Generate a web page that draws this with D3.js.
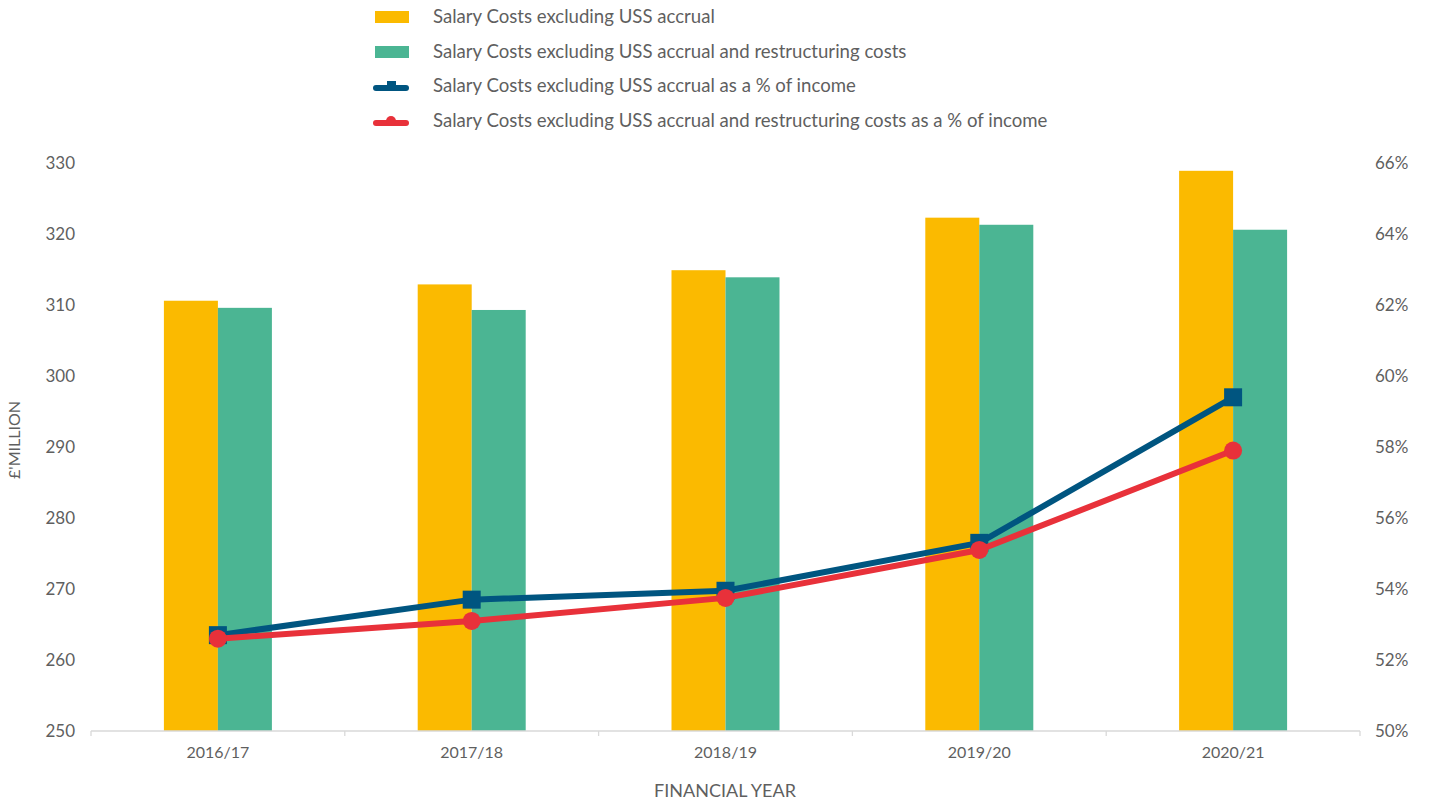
<!DOCTYPE html>
<html><head><meta charset="utf-8">
<script src="https://cdn.jsdelivr.net/npm/d3@7"></script>
<style>
body{margin:0;background:#fff;}
text{font-family:Lato,"Open Sans",sans-serif;fill:#5f5f5f;}
</style></head>
<body><svg id="c" width="1432" height="803"></svg>
<script>
const categories = ["2016/17","2017/18","2018/19","2019/20","2020/21"];
const salaryExclUSS = [310.6, 312.9, 314.9, 322.3, 328.9];
const salaryExclUSSRestr = [309.6, 309.3, 313.9, 321.3, 320.6];
const pctExclUSS = [52.7, 53.7, 53.95, 55.3, 59.4];
const pctExclUSSRestr = [52.6, 53.1, 53.75, 55.1, 57.9];
const leftTicks = [250,260,270,280,290,300,310,320,330];
const rightTicks = [50,52,54,56,58,60,62,64,66];
const seriesNames = ["Salary Costs excluding USS accrual","Salary Costs excluding USS accrual and restructuring costs","Salary Costs excluding USS accrual as a % of income","Salary Costs excluding USS accrual and restructuring costs as a % of income"];
const colors = {yellow:"#FBBA00", green:"#4BB593", blue:"#005580", red:"#E8313A"};

const svg = d3.select("#c");
const L=91, R=1360, T=163, B=731;
const x = d3.scaleBand().domain(categories).range([L,R]);
const yL = d3.scaleLinear().domain([250,330]).range([B,T]);
const yR = d3.scaleLinear().domain([50,66]).range([B,T]);
const barW = 54;

// bars
const g = svg.append("g");
g.selectAll(".b1").data(categories).join("rect")
 .attr("x",d=>x(d)+x.bandwidth()/2-barW).attr("width",barW)
 .attr("y",(d,i)=>yL(salaryExclUSS[i])).attr("height",(d,i)=>B-yL(salaryExclUSS[i]))
 .attr("fill",colors.yellow);
g.selectAll(".b2").data(categories).join("rect")
 .attr("x",d=>x(d)+x.bandwidth()/2).attr("width",barW)
 .attr("y",(d,i)=>yL(salaryExclUSSRestr[i])).attr("height",(d,i)=>B-yL(salaryExclUSSRestr[i]))
 .attr("fill",colors.green);

// x axis
const xa = svg.append("g").attr("transform",`translate(0,${B})`);
xa.append("line").attr("x1",L).attr("x2",R).attr("stroke","#d9d9d9").attr("stroke-width",1.3);
const bounds = categories.map(c=>x(c)).concat([R]);
xa.selectAll(".t").data(bounds).join("line").attr("x1",d=>d).attr("x2",d=>d).attr("y1",0).attr("y2",5).attr("stroke","#d9d9d9").attr("stroke-width",1.3);
xa.selectAll(".l").data(categories).join("text").attr("x",d=>x(d)+x.bandwidth()/2).attr("y",27)
 .attr("text-anchor","middle").attr("font-size",16).text(d=>d);

// left ticks
svg.append("g").selectAll("text").data(leftTicks).join("text")
 .attr("x",75).attr("y",d=>yL(d)+6).attr("text-anchor","end").attr("font-size",17).text(d=>d);
// right ticks
svg.append("g").selectAll("text").data(rightTicks).join("text")
 .attr("x",1375).attr("y",d=>yR(d)+6).attr("text-anchor","start").attr("font-size",17).text(d=>d+"%");

// axis titles
svg.append("text").attr("transform","translate(20,440) rotate(-90)").attr("text-anchor","middle").attr("font-size",16).text("£'MILLION");
svg.append("text").attr("x",725).attr("y",797).attr("text-anchor","middle").attr("font-size",18).text("FINANCIAL YEAR");

// lines
const cx = d=>x(d)+x.bandwidth()/2;
const line = (arr)=>d3.line().x((d,i)=>cx(categories[i])).y((d,i)=>yR(arr[i]))(arr);
svg.append("path").attr("d",line(pctExclUSS)).attr("fill","none").attr("stroke",colors.blue).attr("stroke-width",6).attr("stroke-linejoin","round");
svg.append("g").selectAll("rect").data(categories).join("rect")
 .attr("x",d=>cx(d)-9).attr("y",(d,i)=>yR(pctExclUSS[i])-9).attr("width",18).attr("height",18).attr("fill",colors.blue);
svg.append("path").attr("d",line(pctExclUSSRestr)).attr("fill","none").attr("stroke",colors.red).attr("stroke-width",6).attr("stroke-linejoin","round");
svg.append("g").selectAll("circle").data(categories).join("circle")
 .attr("cx",d=>cx(d)).attr("cy",(d,i)=>yR(pctExclUSSRestr[i])).attr("r",9).attr("fill",colors.red);

// legend
const leg = svg.append("g");
const ly = [17,52,86,121];
leg.append("rect").attr("x",375).attr("y",ly[0]-6).attr("width",34).attr("height",12).attr("fill",colors.yellow);
leg.append("rect").attr("x",375).attr("y",ly[1]-6).attr("width",34).attr("height",12).attr("fill",colors.green);
leg.append("line").attr("x1",376).attr("x2",406).attr("y1",ly[2]+2).attr("y2",ly[2]+2).attr("stroke",colors.blue).attr("stroke-width",6).attr("stroke-linecap","round");
leg.append("rect").attr("x",387).attr("y",ly[2]-5).attr("width",9).attr("height",9).attr("fill",colors.blue);
leg.append("line").attr("x1",376).attr("x2",406).attr("y1",ly[3]+2).attr("y2",ly[3]+2).attr("stroke",colors.red).attr("stroke-width",6).attr("stroke-linecap","round");
leg.append("circle").attr("cx",391).attr("cy",ly[3]).attr("r",5).attr("fill",colors.red);
leg.selectAll("text").data(seriesNames).join("text").attr("x",433).attr("y",(d,i)=>ly[i]+6).attr("font-size",18.6).text(d=>d);
</script></body></html>
